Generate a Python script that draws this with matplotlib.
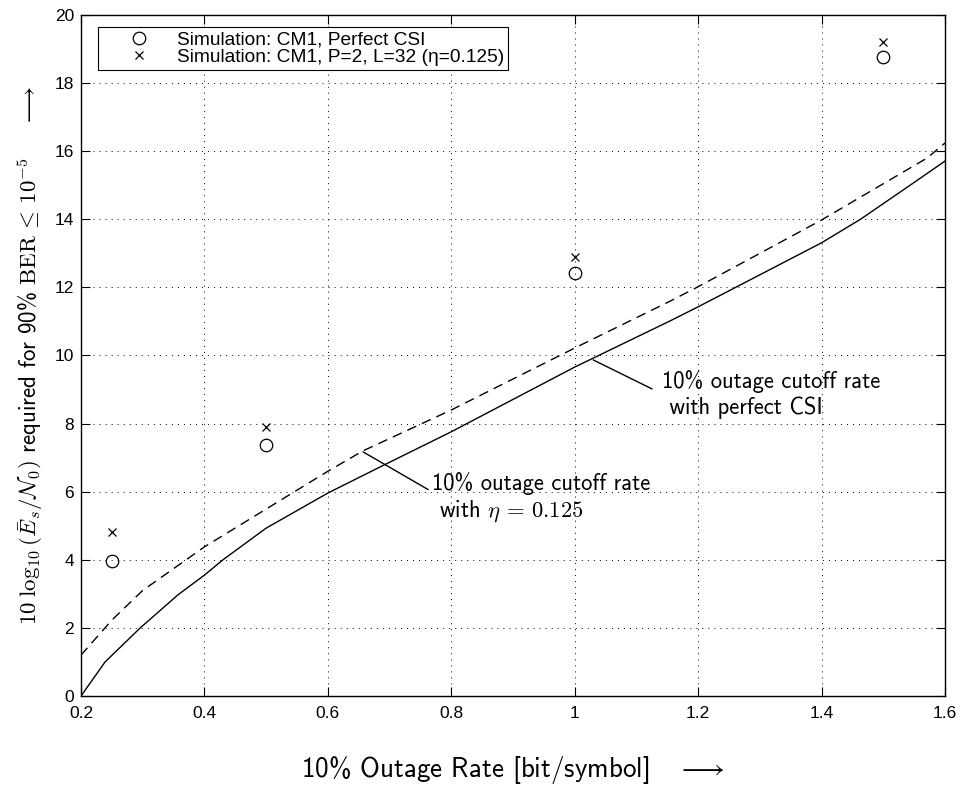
# 10% outage cutoff rate vs. required SNR, with simulation points
import numpy as np
import matplotlib
matplotlib.use('Agg')
import matplotlib.pyplot as plt

plt.rcParams['mathtext.fontset'] = 'cm'
plt.rcParams['axes.unicode_minus'] = False

######## Data ##########
# outage cutoff rate curves
rate_csi = [0.2, 0.239, 0.296, 0.357, 0.4, 0.43, 0.5, 0.6, 0.685, 0.8, 1.0, 1.155, 1.2, 1.4, 1.463, 1.549, 1.6]
snr_csi = [0.0, 1.0, 2.0, 2.97, 3.55, 4.0, 4.93, 5.96, 6.73, 7.76, 9.66, 11.02, 11.43, 13.31, 14.0, 15.07, 15.71]

rate_eta = [0.2, 0.25, 0.3, 0.4, 0.6, 0.657, 0.8, 1.0, 1.155, 1.2, 1.4, 1.571, 1.6]
snr_eta = [1.2, 2.23, 3.1, 4.38, 6.6, 7.2, 8.4, 10.22, 11.6, 12.02, 13.98, 15.8, 16.24]

# simulation points
sim_rate = [0.25, 0.5, 1.0, 1.5]
sim_perfect = [3.96, 7.37, 12.43, 18.77]
sim_p2l32 = [4.83, 7.89, 12.9, 19.2]

legend_labels = ['Simulation: CM1, Perfect CSI',
                 'Simulation: CM1, P=2, L=32 (\u03b7=0.125)']

xticks = [0.2, 0.4, 0.6, 0.8, 1.0, 1.2, 1.4, 1.6]
xticklabels = ['0.2', '0.4', '0.6', '0.8', '1', '1.2', '1.4', '1.6']
yticks = [0, 2, 4, 6, 8, 10, 12, 14, 16, 18, 20]

######## Plot ##########
fig = plt.figure(figsize=(9.6, 7.85), dpi=100)
ax = fig.add_axes([81/960, 1 - 696/785, 864/960, 681/785])

ax.plot(rate_csi, snr_csi, color='k', lw=1.0)
ax.plot(rate_eta, snr_eta, color='k', lw=1.0, dashes=(7, 4.5))

h1, = ax.plot(sim_rate, sim_perfect, 'o', ms=9, mfc='none', mec='k', mew=0.9)
h2, = ax.plot(sim_rate, sim_p2l32, 'x', ms=6, mec='k', mew=0.9)

ax.set_xlim(0.2, 1.6)
ax.set_ylim(0, 20)
ax.set_xticks(xticks)
ax.set_xticklabels(xticklabels)
ax.set_yticks(yticks)

tick_font = 'Liberation Sans'
for lab in ax.get_xticklabels() + ax.get_yticklabels():
    lab.set_fontfamily(tick_font)
    lab.set_fontsize(12.5)

ax.tick_params(direction='in', top=True, right=True, length=6.5, width=0.8)
ax.tick_params(axis='x', pad=7)
ax.tick_params(axis='y', pad=5)
for s in ax.spines.values():
    s.set_linewidth(1.0)

ax.grid(True, color='k', lw=0.7, linestyle=(0, (1, 5.2)))

leg = ax.legend([h1, h2], legend_labels, loc='upper left',
                bbox_to_anchor=(17/864, 1 - 12/681), borderaxespad=0,
                prop={'family': 'Liberation Sans', 'size': 13.8},
                numpoints=1, handlelength=3.9, handletextpad=0.0,
                borderpad=0.2, labelspacing=0.0, fancybox=False,
                framealpha=1, edgecolor='k')
leg.get_frame().set_linewidth(0.8)

# annotations
ax.annotate('10% outage cutoff rate\n with perfect CSI', xy=(1.03, 9.87),
            xytext=(1.142, 8.84), textcoords='data', ha='left', va='center',
            family='cmss10', fontsize=16.3,
            arrowprops=dict(arrowstyle='-', color='k', lw=1.0,
                            relpos=(0, 0.52), shrinkA=6, shrinkB=0))

ax.annotate('10% outage cutoff rate\n with $\\eta\\,=\\,0.125$', xy=(0.657, 7.17),
            xytext=(0.769, 5.81), textcoords='data', ha='left', va='center',
            family='cmss10', fontsize=16.3,
            arrowprops=dict(arrowstyle='-', color='k', lw=1.0,
                            relpos=(0, 0.62), shrinkA=1, shrinkB=0))

ax.set_xlabel('10% Outage Rate [bit/symbol]   $\\longrightarrow$',
              family='cmss10', fontsize=19.5, labelpad=24)
ax.set_ylabel('$10\\;\\log_{10}(\\bar{E}_s/\\mathcal{N}_0)$ required for 90% '
              '$\\mathrm{BER}\\,\\leq\\,10^{-5}$    $\\longrightarrow$',
              family='cmss10', fontsize=16.5, labelpad=7)

fig.savefig('out.png', dpi=100)
